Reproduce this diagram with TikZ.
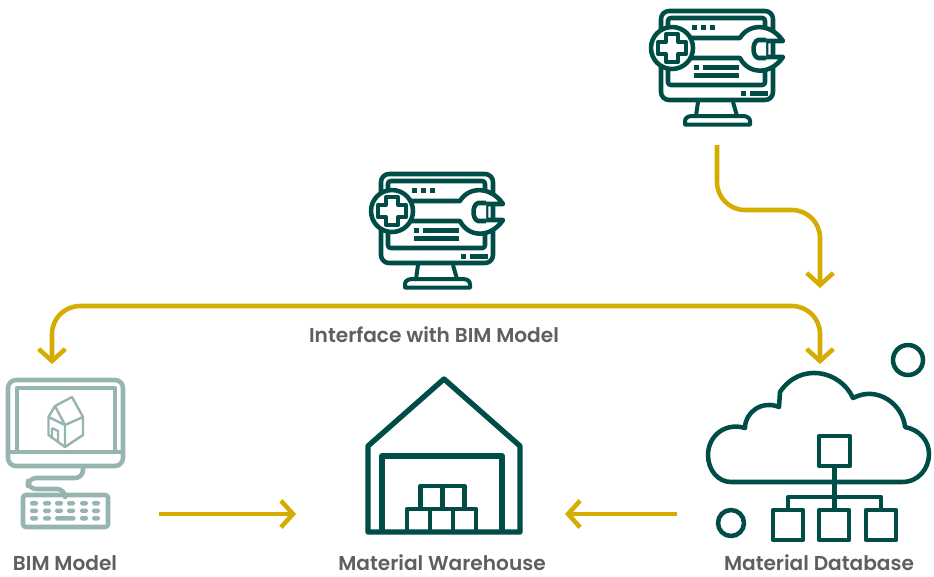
\documentclass[tikz,border=0pt]{standalone}
\usepackage{fontspec}
\setmainfont[UprightFont=* SemiBold]{Poppins}
\usetikzlibrary{arrows.meta}
\definecolor{darkgreen}{HTML}{004C46}
\definecolor{palegreen}{HTML}{96B5B0}
\definecolor{gold}{HTML}{D4AD00}
\definecolor{labelgray}{HTML}{5F5F5F}
\tikzset{
	icon/.style = {
		draw=darkgreen,
		line width=3.4pt,
		line join=round,
		fill=white
	},
	thinicon/.style = {
		icon,
		line width=3pt
	},
	solid bit/.style = {
		fill=darkgreen
	},
	pale/.style = {
		draw=palegreen,
		line width=3.4pt,
		line join=round
	},
	keycap/.style = {
		fill=palegreen,
		rounded corners=1.2pt
	},
	flow/.style = {
		draw=gold,
		line width=3.4pt,
		rounded corners=21pt,
		>={Straight Barb[length=9pt,width=20pt,line width=3.4pt]}
	},
	caption/.style = {
		text=labelgray,
		anchor=base,
		inner sep=0pt,
		font=\fontsize{15.1}{18}\selectfont
	},
	toolicon/.pic = {
		% screen
		\draw[icon, rounded corners=6pt] (3,3) rectangle (115,92);
		\draw[icon, rounded corners=2pt] (10,10) rectangle (107,77);
		% stand
		\draw[thinicon] (40,94) -- (38,108) (75,94) -- (79,108);
		\draw[thinicon] (27,116.5) -- (27,113) .. controls (27,110) and (30,108) .. (34,108) -- (85,108) .. controls (89,108) and (92,110) .. (92,113) -- (92,116.5) -- cycle;
		% dots
		\foreach \dotx in {34,43,52}
			\fill[solid bit] (\dotx,17) rectangle +(5,5);
		\foreach \dotx in {43,52,61}
			\fill[solid bit] (\dotx,39) rectangle +(5,5);
		\fill[solid bit] (36,57) rectangle +(5,5);
		\fill[solid bit] (45,57) rectangle (81,62);
		\fill[solid bit] (36,65) rectangle (81,70);
		\fill[solid bit] (83,83) rectangle +(5,5);
		\fill[solid bit] (92,83) rectangle (110,88);
		% spanner
		\draw[icon] (30,30) -- (82,30) .. controls (90,16) and (112,14) .. (125,33) -- (108,33) -- (108,49) -- (125,49) .. controls (112,68) and (90,66) .. (82,50) -- (30,50) -- cycle;
		\draw[icon] (108,32) -- (100,32) .. controls (94,34) and (94,48) .. (100,50) -- (108,50);
		% plus in circle
		\draw[icon] (14,40) circle[radius=21];
		\draw[thinicon] (8,26) -- (20,26) -- (20,34) -- (28,34) -- (28,46) -- (20,46) -- (20,54) -- (8,54) -- (8,46) -- (0,46) -- (0,34) -- (8,34) -- cycle;
	}
}

\begin{document}
\begin{tikzpicture}[x=0.75pt, y=-0.75pt]
	\useasboundingbox (0,0) rectangle (934,576);

	% flow end points
	\coordinate (topstart) at (717,145);
	\coordinate (topbendA) at (717,210);
	\coordinate (topbendB) at (820,210);
	\coordinate (topend) at (820,288);
	\coordinate (bimtop) at (52,364);
	\coordinate (dbtop) at (820,364);
	\coordinate (busleft) at (52,306);
	\coordinate (busright) at (820,306);
	\coordinate (bimout) at (159,514);
	\coordinate (wareleft) at (296,514);
	\coordinate (dbout) at (677,514);
	\coordinate (wareright) at (565,514);

	% two tool icons
	\pic at (658,8) {toolicon};
	\pic at (378,171) {toolicon};

	% BIM monitor
	\draw[pale, rounded corners=6pt] (8,380) rectangle (123,466);
	\draw[pale] (17,452) -- (17,388) -- (115,388) -- (115,452);
	\draw[pale] (6,452) -- (125,452);
	\draw[pale, rounded corners=6pt] (83,468) -- (83,478) -- (28,478) -- (28,489) -- (65,489) -- (65,495);
	\draw[pale, rounded corners=2pt] (23,495) rectangle (108,527);
	\foreach \keyx in {30,43,55,67,80,92} {
		\fill[keycap] (\keyx,501) rectangle +(8,4.5);
		\fill[keycap] (\keyx,508.5) rectangle +(8,4.5);
	}
	\foreach \keyx in {30,43,80,92}
		\fill[keycap] (\keyx,516) rectangle +(8,4.5);
	\fill[keycap] (55,516) rectangle +(20.5,4.5);
	\draw[palegreen, line width=1.8pt, line join=round] (72,397) -- (55,406) -- (48.5,417) -- (48.5,435) -- (65,447) -- (83,435) -- (83,417) -- cycle (55,406) -- (65,425) -- (83,417) (65,425) -- (65,447) (48.5,417) -- (65,425) (52,428) -- (58,431) -- (58,443) (52,428) -- (52,439);

	% warehouse
	\draw[icon, fill=none, line width=4pt] (368,532) -- (368,446) -- (444,379) -- (520,446) -- (520,532) -- cycle;
	\draw[icon, fill=none, line width=4pt] (382,532) -- (382,456) -- (502,456) -- (502,532);
	\foreach \boxx in {407,430,453}
		\draw[icon, fill=none, line width=3.6pt] (\boxx,532) rectangle +(23,-23);
	\foreach \boxx in {420.5,442.5}
		\draw[icon, fill=none, line width=3.6pt] (\boxx,509) rectangle +(22,-23);

	% cloud
	\draw[icon, fill=none] (731,482) -- (902,482) .. controls (919,482) and (929,468) .. (929,454) .. controls (929,441) and (920,430) .. (905,427) .. controls (903,405) and (878,385) .. (853,398) .. controls (840,370) and (800,362) .. (780,392) -- (779,407) .. controls (762,400) and (745,412) .. (745,428) .. controls (725,422) and (708,436) .. (708,455) .. controls (708,470) and (718,482) .. (731,482) -- cycle;
	\draw[icon, fill=none] (819,436) rectangle (850,466);
	\foreach \boxx in {773,819,866}
		\draw[icon, fill=none] (\boxx,510) rectangle +(30,30);
	\draw[icon, fill=none] (834.5,466) -- (834.5,510);
	\draw[icon, fill=none] (788,510) -- (788,497) -- (881,497) -- (881,510);
	\draw[icon, fill=none] (908,360) circle[radius=15];
	\draw[icon, fill=none] (731,523) circle[radius=13];

	% connectors
	\draw[flow, ->] (topstart) -- (topbendA) -- (topbendB) -- (topend);
	\draw[flow, <->] (bimtop) -- (busleft) -- (busright) -- (dbtop);
	\draw[flow, ->] (bimout) -- (wareleft);
	\draw[flow, ->] (dbout) -- (wareright);

	% labels
	\node[caption] (interfacelabel) at (434,342) {Interface with BIM Model};
	\node[caption] (bimlabel) at (65,570) {BIM Model};
	\node[caption] (warelabel) at (442,570) {Material Warehouse};
	\node[caption] (dblabel) at (819,570) {Material Database};
\end{tikzpicture}
\end{document}
